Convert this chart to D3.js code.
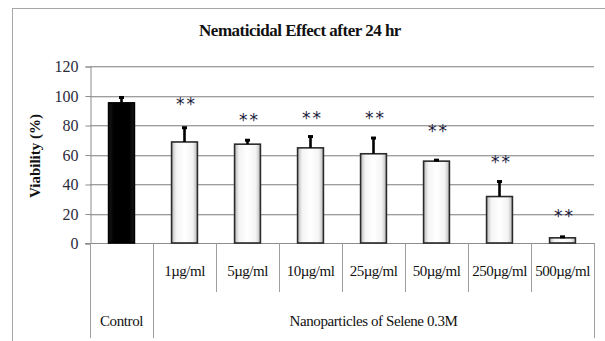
<!DOCTYPE html>
<html>
<head>
<meta charset="utf-8">
<script src="https://cdn.jsdelivr.net/npm/d3@7/dist/d3.min.js"></script>
<style>
  html, body { margin: 0; padding: 0; background: #fff; }
  svg { display: block; }
</style>
</head>
<body>
<script>
// ---------- data ----------
const categories = ["Control", "1µg/ml", "5µg/ml", "10µg/ml", "25µg/ml", "50µg/ml", "250µg/ml", "500µg/ml"];
const values = [95, 68.5, 67, 64.5, 60.5, 55.5, 31.5, 3.5];
const errors = [4, 10, 3, 8, 11, 1, 10.5, 1];
const significance = ["", "**", "**", "**", "**", "**", "**", "**"];
const significanceLevel = [null, 95.5, 84.5, 86, 86, 77, 56, 20];
const yTicks = [0, 20, 40, 60, 80, 100, 120];
const groupLabels = ["Control", "Nanoparticles of Selene 0.3M"];
const groupSpans = [[0, 0], [1, 7]];
const title = "Nematicidal Effect after 24 hr";
const yTitle = "Viability (%)";

// ---------- layout ----------
const W = 605, H = 341;
const plotLeft = 90, plotRight = 594, plotTop = 66, plotBottom = 243;
const SERIF = "'Liberation Serif', 'Times New Roman', serif";

const svg = d3.select("body").append("svg").attr("width", W).attr("height", H);

const defs = svg.append("defs");
const gw = defs.append("linearGradient").attr("id", "gWhite").attr("x1", 0).attr("x2", 1).attr("y1", 0).attr("y2", 0);
gw.append("stop").attr("offset", 0).attr("stop-color", "#b8b8b8");
gw.append("stop").attr("offset", 0.18).attr("stop-color", "#f4f4f4");
gw.append("stop").attr("offset", 0.5).attr("stop-color", "#ffffff");
gw.append("stop").attr("offset", 0.82).attr("stop-color", "#f4f4f4");
gw.append("stop").attr("offset", 1).attr("stop-color", "#b8b8b8");
const gb = defs.append("linearGradient").attr("id", "gBlack").attr("x1", 0).attr("x2", 1).attr("y1", 0).attr("y2", 0);
gb.append("stop").attr("offset", 0).attr("stop-color", "#1a1a1a");
gb.append("stop").attr("offset", 0.2).attr("stop-color", "#000");
gb.append("stop").attr("offset", 0.8).attr("stop-color", "#000");
gb.append("stop").attr("offset", 1).attr("stop-color", "#1a1a1a");

// outer chart frame (extends beyond the page on the right / bottom)
svg.append("rect").attr("x", 12.5).attr("y", 8.5).attr("width", 640).attr("height", 360)
  .attr("fill", "none").attr("stroke", "#a6a6a6").attr("stroke-width", 1);

// title
svg.append("text").attr("x", 300).attr("y", 36).attr("text-anchor", "middle")
  .style("font-family", SERIF).style("font-size", "17px").style("font-weight", "bold")
  .attr("fill", "#111").attr("letter-spacing", -0.5).text(title);

// scales
const x = d3.scaleBand().domain(categories).range([plotLeft, plotRight])
  .paddingInner(0.59).paddingOuter(0.295);
const step = x.step();
const y = d3.scaleLinear().domain([0, 120]).range([plotBottom, plotTop]);

// gridlines
svg.append("g").selectAll("line").data(yTicks.filter(d => d > 0)).join("line")
  .attr("x1", plotLeft).attr("x2", plotRight)
  .attr("y1", d => Math.round(y(d)) + 0.5).attr("y2", d => Math.round(y(d)) + 0.5)
  .attr("stroke", "#9e9e9e").attr("stroke-width", 1);
svg.append("g").selectAll("line").data(yTicks.filter(d => d > 0)).join("line")
  .attr("x1", plotLeft).attr("x2", plotRight)
  .attr("y1", d => Math.round(y(d)) + 1.5).attr("y2", d => Math.round(y(d)) + 1.5)
  .attr("stroke", "#dcdcdc").attr("stroke-width", 1);

// y axis
const yAxis = d3.axisLeft(y).tickValues(yTicks).tickSize(5).tickPadding(7).tickFormat(d3.format("d"));
const gy = svg.append("g").attr("transform", `translate(${plotLeft + 0.5},0.5)`).call(yAxis);
gy.select(".domain").attr("stroke", "#8c8c8c");
gy.selectAll(".tick line").attr("stroke", "#8c8c8c");
gy.selectAll(".tick text").style("font-family", SERIF).style("font-size", "16px")
  .attr("fill", "#2b2b3b");

// y title
svg.append("text").attr("transform", `translate(40,156) rotate(-90)`).attr("text-anchor", "middle")
  .style("font-family", SERIF).style("font-size", "15px").style("font-weight", "bold")
  .attr("fill", "#111").text(yTitle);

// category table
svg.append("line").attr("x1", plotLeft - 5).attr("x2", plotRight)
  .attr("y1", plotBottom + 0.5).attr("y2", plotBottom + 0.5).attr("stroke", "#8c8c8c");
const boundaries = d3.range(categories.length + 1).map(i => plotLeft + i * step);
const groupEdges = new Set();
groupSpans.forEach(s => { groupEdges.add(s[0]); groupEdges.add(s[1] + 1); });
svg.append("g").selectAll("line").data(boundaries).join("line")
  .attr("x1", d => Math.round(d) + 0.5).attr("x2", d => Math.round(d) + 0.5)
  .attr("y1", plotBottom)
  .attr("y2", (d, i) => groupEdges.has(i) ? 338 : 292)
  .attr("stroke", "#9e9e9e");

// concentration labels
svg.append("g").selectAll("text").data(categories.slice(1)).join("text")
  .attr("x", d => x(d) + x.bandwidth() / 2).attr("y", 276)
  .attr("text-anchor", "middle").style("font-family", SERIF).style("font-size", "15px")
  .attr("fill", "#111").attr("letter-spacing", -0.5).text(d => d);

// group labels
svg.append("g").selectAll("text").data(groupLabels).join("text")
  .attr("x", (d, i) => (plotLeft + groupSpans[i][0] * step + plotLeft + (groupSpans[i][1] + 1) * step) / 2)
  .attr("y", 326).attr("text-anchor", "middle").style("font-family", SERIF).style("font-size", "15px")
  .attr("fill", "#111").attr("letter-spacing", -0.4).text(d => d);

// bars
const bars = categories.map((c, i) => ({ c, v: values[i], e: errors[i], s: significance[i], sl: significanceLevel[i], i }));
svg.append("g").selectAll("rect").data(bars).join("rect")
  .attr("x", d => x(d.c)).attr("width", x.bandwidth())
  .attr("y", d => y(d.v)).attr("height", d => y(0) - y(d.v))
  .attr("fill", d => d.i === 0 ? "url(#gBlack)" : "url(#gWhite)")
  .attr("stroke", d => d.i === 0 ? "#000" : "#2a2a2a").attr("stroke-width", 1.6);

// error bars (upper only)
const eb = svg.append("g");
eb.selectAll("line").data(bars).join("line")
  .attr("x1", d => x(d.c) + x.bandwidth() / 2).attr("x2", d => x(d.c) + x.bandwidth() / 2)
  .attr("y1", d => y(d.v)).attr("y2", d => y(d.v + d.e))
  .attr("stroke", "#000").attr("stroke-width", 2.6);
eb.selectAll("rect").data(bars).join("rect")
  .attr("x", d => x(d.c) + x.bandwidth() / 2 - 2.5).attr("width", 5)
  .attr("y", d => y(d.v + d.e) - 1).attr("height", 3).attr("fill", "#000");

// significance stars
svg.append("g").selectAll("text").data(bars.filter(d => d.s)).join("text")
  .attr("x", d => x(d.c) + x.bandwidth() / 2 + 2).attr("y", d => y(d.sl) + 8)
  .attr("text-anchor", "middle").style("font-family", "'DejaVu Sans', sans-serif").style("font-size", "17px")
  .attr("fill", "#1c1c3a").attr("letter-spacing", 2)
  .text(d => d.s);
</script>
</body>
</html>
